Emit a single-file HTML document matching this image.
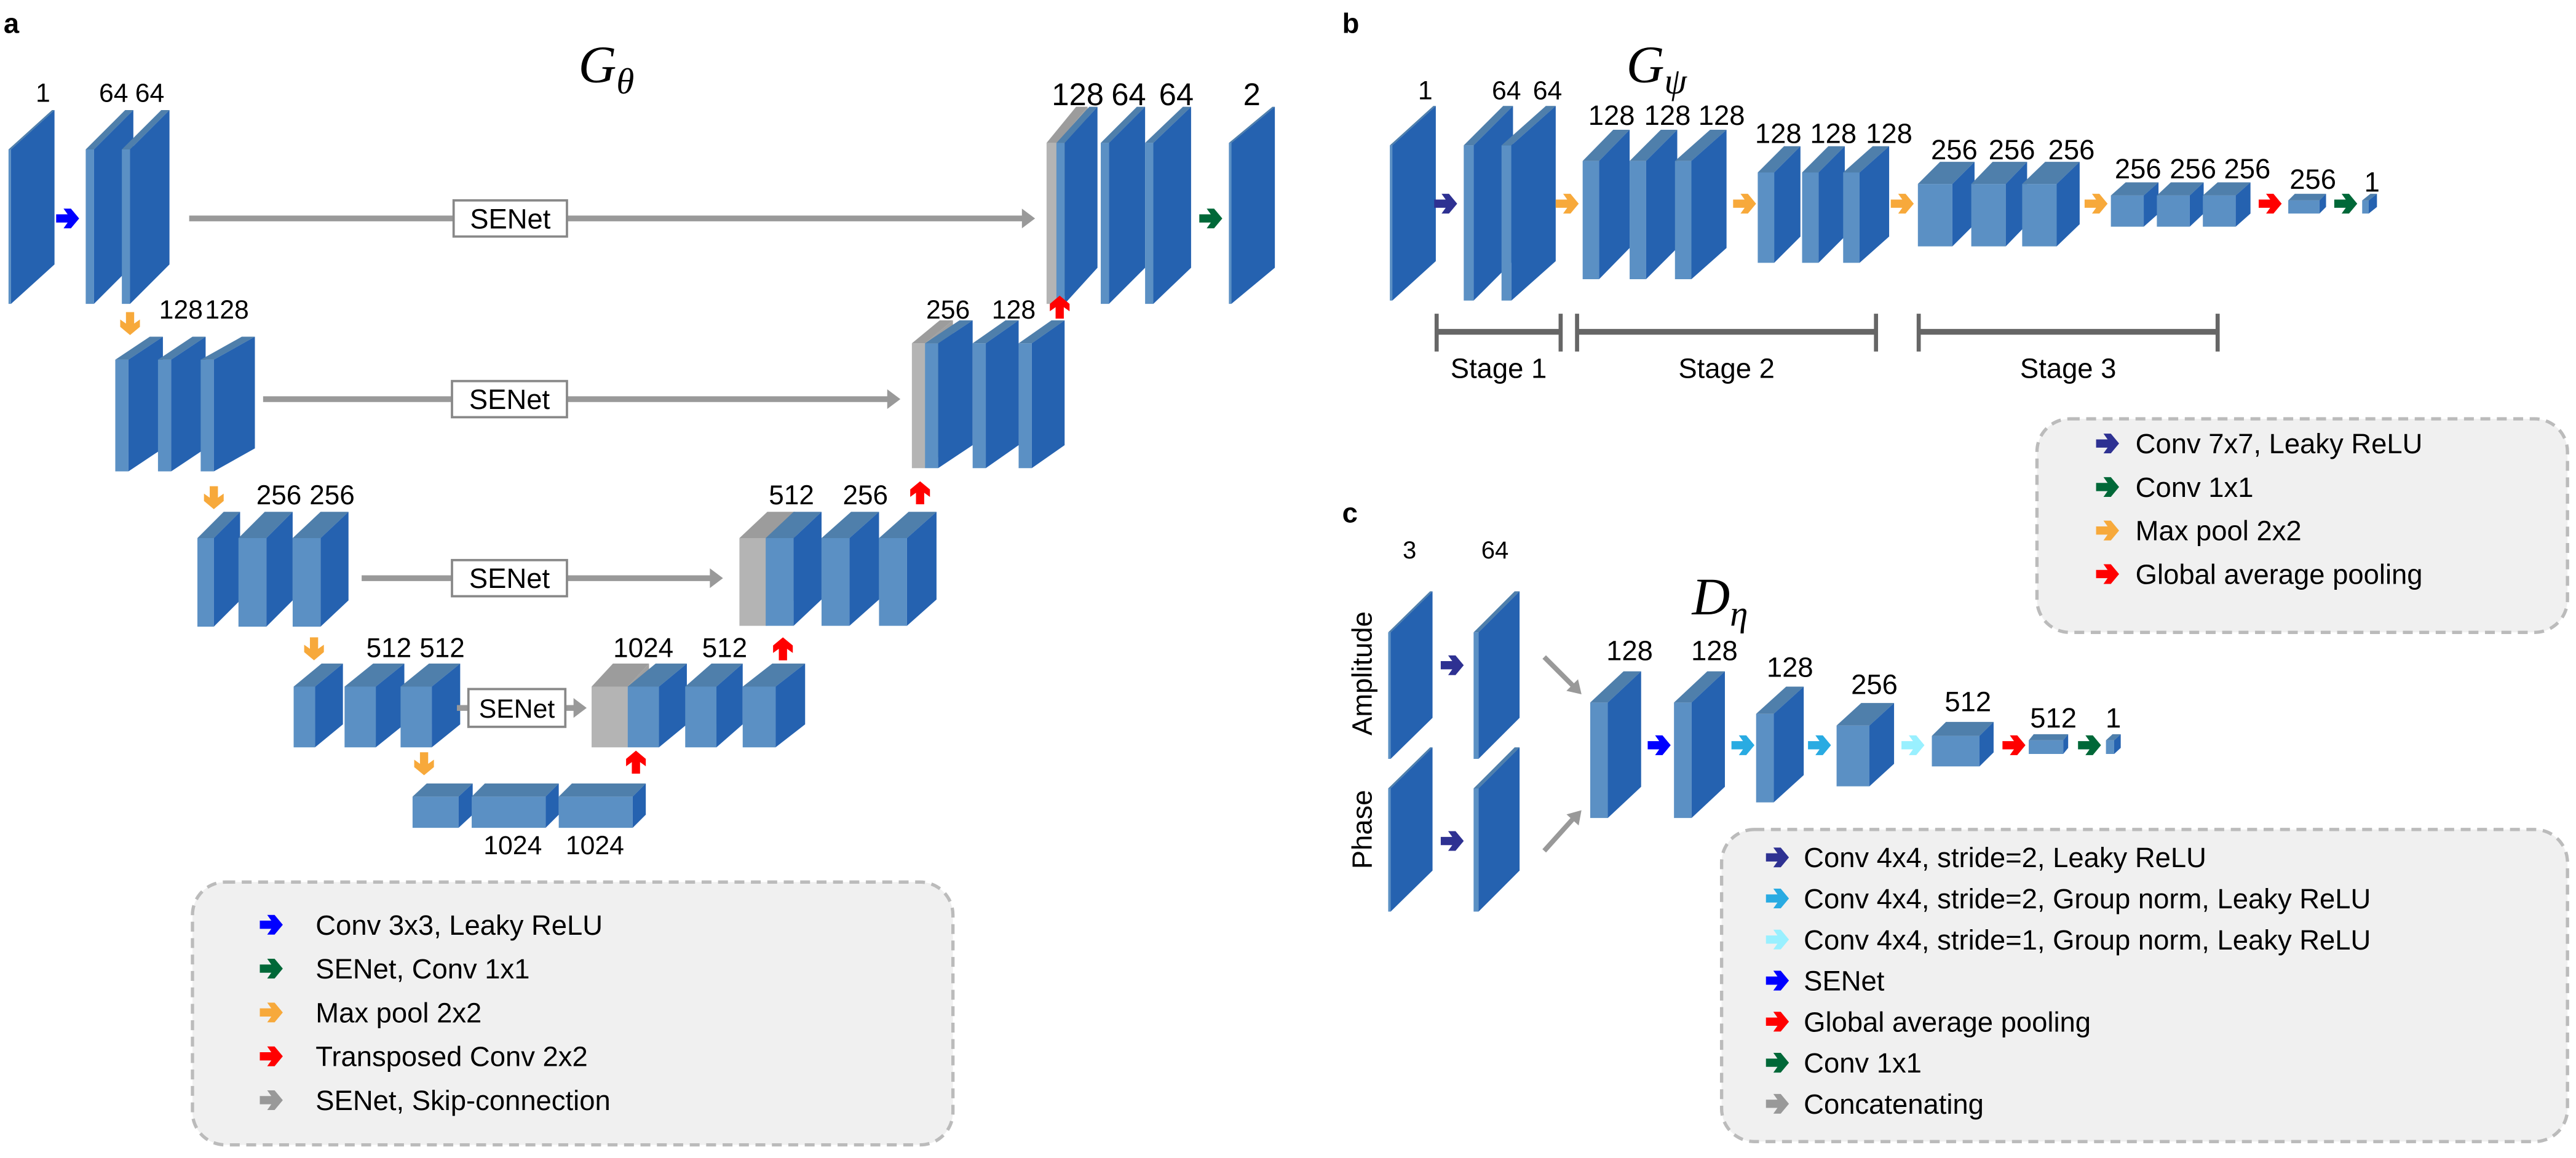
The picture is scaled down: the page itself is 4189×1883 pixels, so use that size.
<!DOCTYPE html>
<html><head><meta charset="utf-8"><style>
html,body{margin:0;padding:0;background:#fff}
svg{display:block}
text{font-family:"Liberation Sans",sans-serif;fill:#000}
.t{font-family:"Liberation Serif",serif;font-style:italic}
</style></head><body>
<svg id="fig" xmlns="http://www.w3.org/2000/svg" width="4189" height="1883" viewBox="0 0 1568 705">
<g>
<text x="2" y="20" font-size="17" font-weight="bold">a</text>
<text x="817" y="20" font-size="17" font-weight="bold">b</text>
<text x="817" y="318" font-size="17" font-weight="bold">c</text>
</g>
<g>
<text class="t" x="352" y="50" font-size="32">G<tspan font-size="22" dy="7">θ</tspan></text>
<text class="t" x="990" y="50" font-size="32">G<tspan font-size="22" dy="7">ψ</tspan></text>
<text class="t" x="1030" y="374" font-size="32">D<tspan font-size="22" dy="7">η</tspan></text>
</g>
<g id="blocks"></g>
<g id="links"></g>
<g id="labels"></g>
<g id="legends"></g>
</svg>
<script>
const NS="http://www.w3.org/2000/svg";
const C={navy:"#2e3192",green:"#006838",orange:"#f7a93b",red:"#ff0000",blue:"#0000ff",gray:"#999999",cyan:"#29abe2",lcyan:"#99f0ff"};
// blocks: x0,x1,y0,y1,lightDepth,skew,gray?
const blocksA=[[5,33,67,185,1.5,24],[52,81,67,185,5,24],[74,103,67,185,5,24],
[637,662,65,185,7,22,1],[643,668,65,185,5,22],[670,697,65,185,5,22],[697,725,65,185,5,22],[748,776,65,185,1.5,22],
[70,99,205,287,8,14],[96,125,205,287,8,14],[122,155,205,287,8,14],
[555,580,195,285,8,14,1],[563,592,195,285,8,14],[592,620,195,285,8,14],[620,648,195,285,8,14],
[120,146,311.6,381.5,10,16],[145,178,311.6,381.5,17,16],[178,212,311.6,381.5,17,16],
[450,484,311.6,381,17,16,1],[466,500,311.6,381,17,16],[500,535,311.6,381,17,16],[535,570,311.6,381,17,16],
[178.6,208.6,404,455,13,14],[209.6,246,404,455,19,14],[243.7,280,404,455,19,14],
[360,395,404,455,22,14,1],[382,418,404,455,19,14],[417,452,404,455,19,14],[452,490,404,455,20,14],
[251,287.6,477,504,28,8],[287,340,477,504,45,8],[340,393,477,504,45,8]];
const blocksB=[[846,874,64.5,183,1.5,24],[891,921,64.5,183,6,24],[914,947,64.5,183,6,24],
[963.4,992,79,170,10,19],[992,1021,79,170,10,19],[1019.6,1051,79,170,10,19],
[1070,1096,89,160,10,16],[1097,1123,89,160,10,16],[1122,1150,89,160,10,16],
[1167.5,1202,98.5,150,21,13.5],[1200,1234,98.5,150,21,13.5],[1231,1266,98.5,150,21,13.5],
[1285,1314,111,138,20,8],[1313,1341.5,111,138,20,8],[1341,1370,111,138,20,8],
[1393,1416,118,130,19,4],[1438,1447,118,130,4,4]];
const blocksC=[[845,872,360,462,1.5,25],[897,925,360,462,3,25],[845,872,455,555,1.5,25],[897,925,455,555,3,25],
[968,999,408.7,498,10.7,19],[1019,1050,408.7,498,10.7,19],[1069,1098,418,488.5,10.7,16.6],[1118,1153,428,478.7,20,13.7],
[1176,1213.6,439.5,466.6,29,8.5],[1235,1259,447,459,21,3.7],[1282,1291,447,459,5,3.7]];
const labelTexts=["1","64","64","128","64","64","2","128","128","256","128","256","256","512","256","512","512","1024","512","1024","1024",
"1","64","64","128","128","128","128","128","128","256","256","256","256","256","256","256","1",
"3","64","128","128","128","256","512","512","1"];
const labelPos=[[26,62,16],[69,62,16],[91,62,16],[656,64,19],[687,64,19],[716,64,19],[762,64,19],[110,194,16],[138,194,16],[577,194,16],[617,194,16],
[169.6,307,16.5],[202,307,16.5],[481.7,307,16.5],[526.7,307,16.5],[236.6,400,16.5],[269,400,16.5],[391.5,400,16.5],[441,400,16.5],[312,520,16],[362,520,16],
[867.6,60.5,16],[917,60.5,16],[942,60.5,16],[981,76,17],[1015,76,17],[1048,76,17],[1082.5,87,17],[1116,87,17],[1150,87,17],
[1189.6,97,17],[1224.7,97,17],[1261,97,17],[1301.5,108.6,17],[1335,108.6,17],[1368,108.6,17],[1408,115,17],[1444,116.6,17],
[858,340,15],[910,340,15],[992,402,17],[1043.6,402,17],[1089.6,412,17],[1141,422.6,17],[1198,433,17],[1250,443,17],[1286.5,443,17]];
function el(tag,attrs,parent){const e=document.createElementNS(NS,tag);for(const k in attrs)e.setAttribute(k,attrs[k]);parent.appendChild(e);return e;}
const gB=document.getElementById("blocks");
function block(b){
 const [x0,x1,y0,y1,d,s,g]=b;const w=x1-x0-d,h=y1-y0-s,x=x0,y=y0;
 const gg=el("g",{},gB);
 
 
 const dark=g?"#a0a0a0":"#2562b0",light=g?"#b4b4b4":"#5b90c4",top=g?"#9c9c9c":"#4f7fab";
 el("polygon",{points:`${x},${y+s} ${x+d},${y+s} ${x+d},${y+s+h} ${x},${y+s+h}`,fill:light},gg);
 el("polygon",{points:`${x},${y+s} ${x+w},${y} ${x+w+d},${y} ${x+d},${y+s}`,fill:top},gg);
 el("polygon",{points:`${x+d},${y+s} ${x+d+w},${y} ${x+d+w},${y+h} ${x+d},${y+s+h}`,fill:dark},gg);
}
[...blocksA,...blocksB,...blocksC].forEach(block);
const gL=document.getElementById("labels");
labelTexts.forEach((t,i)=>{const p=labelPos[i];const e=el("text",{x:p[0],y:p[1],"font-size":p[2],"text-anchor":"middle"},gL);e.textContent=t;
 
 });
const gK=document.getElementById("links");
function arrow(cx,cy,dir,col,parent){
 const a=el("polygon",{points:"-7,-2.5 0,-2.5 -2.5,-6 2,-6 7,0 2,6 -2.5,6 0,2.5 -7,2.5",fill:col,transform:`translate(${cx},${cy}) rotate(${dir})`},parent||gK);
 
 
}
// arrows: x,y,rotation,color
const arrowsList=[[41,133,0,C.blue],[737,133,0,C.green],[79,197,90,C.orange],[130,303,90,C.orange],[191,395,90,C.orange],[258,465,90,C.orange],
[645,187,-90,C.red],[560,300,-90,C.red],[476.5,395,-90,C.red],[387,464,-90,C.red],
[880,124,0,C.navy],[954,124,0,C.orange],[1062,124,0,C.orange],[1158,124,0,C.orange],[1276,124,0,C.orange],[1382,124,0,C.red],[1428,124,0,C.green],
[884,405,0,C.navy],[884,512,0,C.navy],[1010,453.7,0,C.blue],[1061,453.7,0,C.cyan],[1107.6,453.7,0,C.cyan],[1164.5,453.7,0,C.lcyan],[1226,453.7,0,C.red],[1272,453.7,0,C.green]];
arrowsList.forEach(a=>arrow(a[0],a[1],a[2],a[3]));
// skip connections
const skips=[[115,630,133,276,345],[160,548,243,275,345],[220,440,352,275,345],[278,357,431,285,344]];
skips.forEach(s=>{
 const [x0,x1,y,b0,b1]=s;
 const l1=el("line",{x1:x0,y1:y,x2:b0,y2:y,stroke:C.gray,"stroke-width":3.5},gK);
 
 
 const l2=el("line",{x1:b1,y1:y,x2:x1-6,y2:y,stroke:C.gray,"stroke-width":3.5},gK);
 
 
 el("polygon",{points:`${x1-8},${y-6} ${x1},${y} ${x1-8},${y+6}`,fill:C.gray},gK);
 const bh=b1-b0<62?23:22;
 const r=el("rect",{x:b0,y:y-bh/2,width:b1-b0,height:bh,fill:"#fff",stroke:"#888","stroke-width":1.4},gK);
 
 
 const t=el("text",{x:(b0+b1)/2,y:y+6,"font-size":b1-b0<62?16:17,"text-anchor":"middle"},gK);t.textContent="SENet";
 
 
});
// concatenation diagonals (panel c)
[[940,400,962,422],[940,518,962,494]].forEach(d=>{
 const l=el("line",{x1:d[0],y1:d[1],x2:d[2]-4,y2:d[3]+(d[3]>d[1]?-4:4),stroke:C.gray,"stroke-width":3},gK);
 
 
 const ang=Math.atan2(d[3]-d[1],d[2]-d[0])*180/Math.PI;
 el("polygon",{points:"-7,-5 1,0 -7,5",fill:C.gray,transform:`translate(${d[2]},${d[3]}) rotate(${ang})`},gK);
});
// stage brackets
const stages=["Stage 1","Stage 2","Stage 3"];
const stageX=[[874.5,950],[960,1142],[1168,1350]];
stages.forEach((s,i)=>{
 const [a,b]=stageX[i];
 const g=el("g",{stroke:"#666","stroke-width":2.5},gK);
 
 
 el("line",{x1:a,y1:202,x2:b,y2:202,"stroke-width":3.5},g);
 el("line",{x1:a,y1:191,x2:a,y2:214},g);el("line",{x1:b,y1:191,x2:b,y2:214},g);
 const t=el("text",{x:(a+b)/2,y:230,"font-size":17,"text-anchor":"middle"},gK);t.textContent=s;
 
 
});
// rotated input labels
[["Amplitude",410],["Phase",505]].forEach(p=>{
 const t=el("text",{x:0,y:0,"font-size":17,"text-anchor":"middle",transform:`translate(835,${p[1]}) rotate(-90)`},gK);t.textContent=p[0];
 
 
});
// legends
const gG=document.getElementById("legends");
const legAText=["Conv 3x3,  Leaky ReLU","SENet, Conv 1x1","Max pool 2x2","Transposed Conv 2x2","SENet, Skip-connection"];
const legACol=[C.blue,C.green,C.orange,C.red,C.gray];
const legBText=["Conv 7x7, Leaky ReLU","Conv 1x1","Max pool 2x2","Global average pooling"];
const legBCol=[C.navy,C.green,C.orange,C.red];
const legCText=["Conv 4x4, stride=2, Leaky ReLU","Conv 4x4, stride=2, Group norm, Leaky ReLU","Conv 4x4, stride=1, Group norm, Leaky ReLU","SENet","Global average pooling","Conv 1x1","Concatenating"];
const legCCol=[C.navy,C.cyan,C.lcyan,C.blue,C.red,C.green,C.gray];
function legend(box,texts,cols,ax,tx,y0,dy,name){
 const g=el("g",{},gG);
 
 
 el("rect",{x:box[0],y:box[1],width:box[2],height:box[3],rx:20,fill:"#f0f0f0",stroke:"#bbb","stroke-width":2,"stroke-dasharray":"6,4"},g);
 texts.forEach((t,i)=>{
  arrow(ax,y0+i*dy,0,cols[i],g);
  const e=el("text",{x:tx,y:y0+i*dy+6,"font-size":17},g);e.textContent=t;
  
  
 });
}
legend([117,537,463,160],legAText,legACol,165,192,563,26.7,"legend-a");
legend([1240,255,323,130],legBText,legBCol,1283,1300,270,26.5,"legend-b");
legend([1048,505,515,190],legCText,legCCol,1082,1098,522,25,"legend-c");
</script>
</body></html>
